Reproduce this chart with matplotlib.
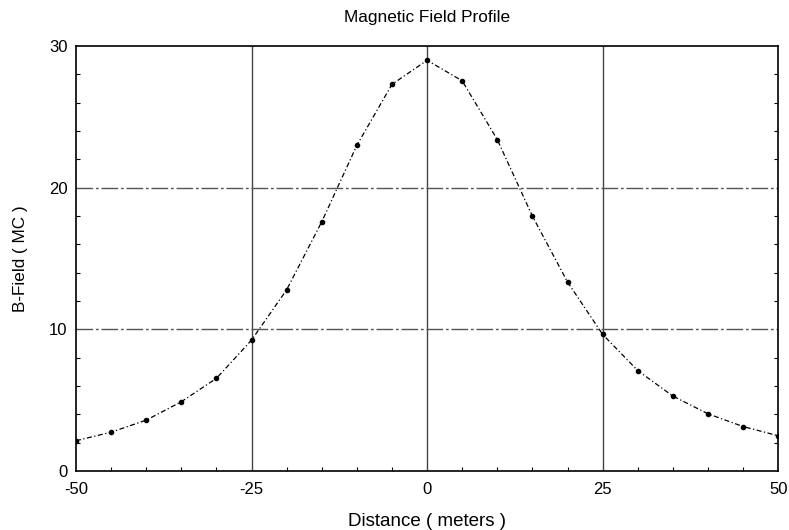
import matplotlib
matplotlib.use("Agg")
import matplotlib.pyplot as plt
from matplotlib.ticker import MultipleLocator

plt.rcParams['font.family'] = ['Liberation Sans', 'DejaVu Sans']

distance = [-50, -45, -40, -35, -30, -25, -20, -15, -10, -5, 0,
            5, 10, 15, 20, 25, 30, 35, 40, 45, 50]
bfield = [2.15, 2.75, 3.6, 4.9, 6.55, 9.25, 12.8, 17.6, 23.0, 27.3, 29.0,
          27.55, 23.4, 18.0, 13.35, 9.65, 7.1, 5.3, 4.05, 3.15, 2.5]
x_ticks = [-50, -25, 0, 25, 50]
x_labels = ["-50", "-25", "0", "25", "50"]
y_ticks = [0, 10, 20, 30]
y_labels = ["0", "10", "20", "30"]

fig = plt.figure(figsize=(7.89, 5.30), dpi=100)
ax = fig.add_axes([0.0963, 0.111, 0.890, 0.802])

ax.plot(distance, bfield, color='black', linestyle=(0, (4, 2, 1, 2)), linewidth=0.9,
        marker='o', markersize=3.0, markerfacecolor='black', markeredgecolor='black', zorder=3)

ax.set_xlim(-50, 50)
ax.set_ylim(0, 30)
ax.set_xticks(x_ticks)
ax.set_xticklabels(x_labels)
ax.set_yticks(y_ticks)
ax.set_yticklabels(y_labels)
ax.xaxis.set_minor_locator(MultipleLocator(5))
ax.yaxis.set_minor_locator(MultipleLocator(2))
ax.tick_params(which='both', direction='in', top=False, right=True, length=3, width=0.8)
ax.tick_params(which='major', labelsize=12)
ax.tick_params(axis='x', which='major', length=0, pad=8)
ax.tick_params(axis='y', which='major', length=0, pad=6)

for xv in [-25, 0, 25]:
    ax.axvline(xv, color='#444444', linewidth=1.0, zorder=1)
for yv in [10, 20]:
    ax.axhline(yv, color='#555555', linewidth=1.0, linestyle=(0, (12, 2, 2, 2)), zorder=1)

for s in ax.spines.values():
    s.set_linewidth(1.2)
    s.set_color('black')

ax.set_title("Magnetic Field Profile", fontsize=12.4, pad=17)
ax.set_xlabel("Distance ( meters )", fontsize=13.5, labelpad=11)
ax.set_ylabel("B-Field ( MC )", fontsize=12.3, labelpad=15)

fig.savefig("out.png", dpi=100)
